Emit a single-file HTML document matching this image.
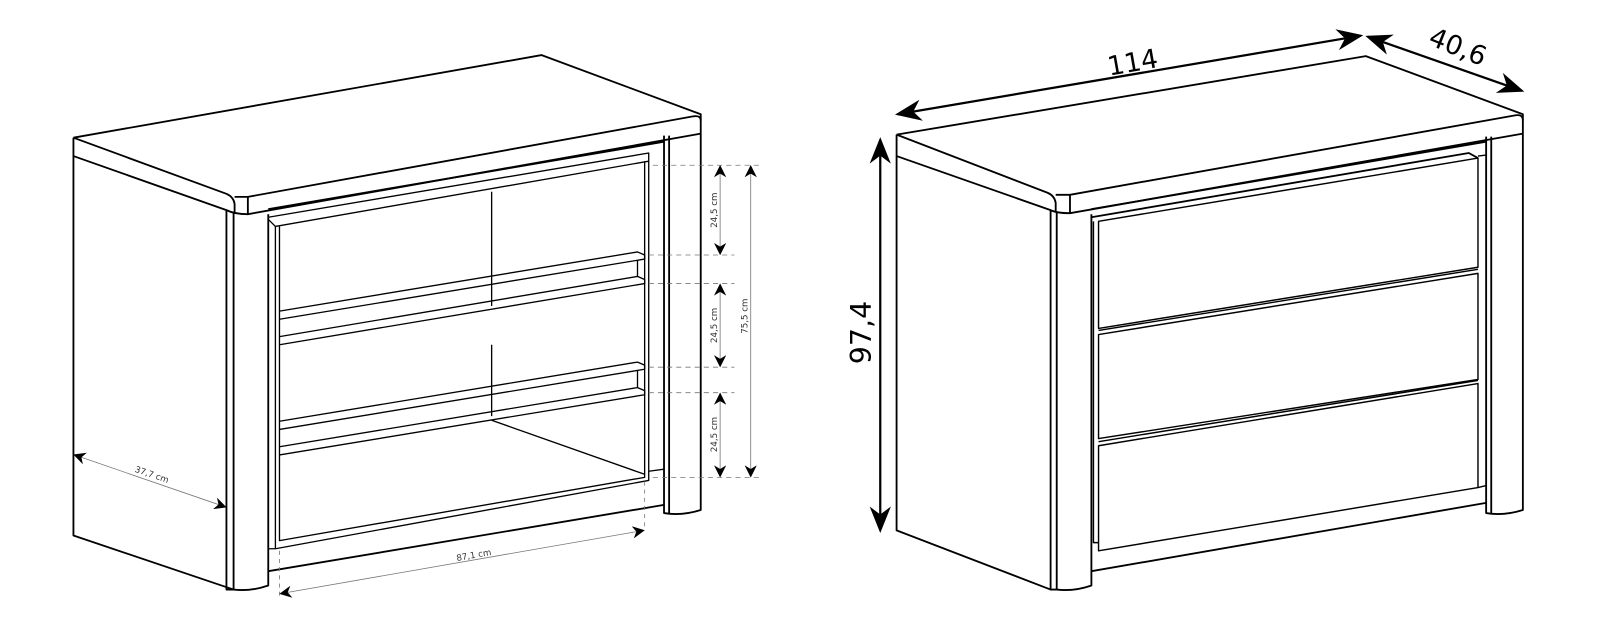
<!DOCTYPE html>
<html><head><meta charset="utf-8"><style>
html,body{margin:0;padding:0;background:#fff;width:1600px;height:629px;overflow:hidden}
svg{display:block}
text{font-family:"DejaVu Sans","Liberation Sans",sans-serif}
</style></head><body>
<svg width="1600" height="629" viewBox="0 0 1600 629" xmlns="http://www.w3.org/2000/svg">
<defs>
<marker id="a" viewBox="0 0 10 10" refX="9" refY="5" markerWidth="12" markerHeight="12" markerUnits="userSpaceOnUse" orient="auto-start-reverse"><path d="M0,0 L10,5 L0,10 L3,5z" fill="#000"/></marker>
<marker id="b" viewBox="0 0 10 10" refX="9" refY="5" markerWidth="26" markerHeight="26" markerUnits="userSpaceOnUse" orient="auto-start-reverse"><path d="M0,1 L10,5 L0,9 L3,5z" fill="#000"/></marker>
</defs>
<g transform="scale(1.02)" fill="none" stroke="#000" stroke-linejoin="round">
<!-- LEFT DRESSER -->
<g stroke-width="1.8">
<path d="M72,135 L531,54 L687,112 L687,131"/>
<path d="M72,135 L222,190 Q229,193 230,200 L230,208"/>
<path d="M230,193 L243,193 L680,114 Q687,113 687,118"/>
<path d="M243,193 L243,210 L687,131"/>
<path d="M72,135 L72,525 L229,578"/>
<path d="M72,153 L222,206 Q230,210 243,210"/>
<path d="M222,206 L222,578 L229,578"/>
<path d="M229,208 L229,578 Q246,580 263,574 L263,210"/>
<path d="M651,133 L651,503 Q668,506 687,500 L687,131"/>
<path d="M656,133 L656,503"/>
<path d="M263,205 L651,139"/>
<path d="M263,560 L651,495"/>
</g>
<g stroke-width="1.3">
<path d="M263,213 L636,150 L636,471 L270,538 L263,538"/>
<path d="M270,222 L636,158"/>
<path d="M270,222 L270,538 M274,222 L274,530 L632,468 L632,158"/>
<path d="M263,215 L270,222"/>
<path d="M482,188 L482,300 M482,338 L482,408"/>
<path d="M482,412 L632,465"/>
<path d="M274,305 L625,247 L632,250 L632,254 L274,313 M274,330 L625,271 L632,274 L632,278 L274,338"/>
<path d="M625,255 L625,271"/>
<path d="M274,413 L625,355 L632,358 L632,362 L274,421 M274,438 L625,380 L632,383 L632,387 L274,446"/>
<path d="M625,363 L625,380"/>
<path d="M636,462 L651,460"/>
</g>
<g stroke="#777" stroke-width="0.8">
<path stroke-dasharray="5,4" d="M640,162 L745,162 M636,250 L720,250 M636,278 L720,278 M636,360 L720,360 M636,385 L720,385 M640,468 L745,468"/>
<path stroke-dasharray="4,4" d="M632,472 L632,520 M274,540 L274,585"/>
<path marker-start="url(#a)" marker-end="url(#a)" d="M706,163 L706,249"/>
<path marker-start="url(#a)" marker-end="url(#a)" d="M706,279 L706,359"/>
<path marker-start="url(#a)" marker-end="url(#a)" d="M706,386 L706,467"/>
<path marker-start="url(#a)" marker-end="url(#a)" d="M736,163 L736,467"/>
<path marker-start="url(#a)" marker-end="url(#a)" d="M73,446 L221,497"/>
<path marker-start="url(#a)" marker-end="url(#a)" d="M275,582 L631,520"/>
</g>
<g fill="#333" stroke="none" font-size="8.5">
<text transform="translate(703,206) rotate(-90)" text-anchor="middle">24,5 cm</text>
<text transform="translate(703,319) rotate(-90)" text-anchor="middle">24,5 cm</text>
<text transform="translate(703,426) rotate(-90)" text-anchor="middle">24,5 cm</text>
<text transform="translate(733,310) rotate(-90)" text-anchor="middle">75,5 cm</text>
<text transform="translate(148,468) rotate(19)" text-anchor="middle">37,7 cm</text>
<text transform="translate(465,547) rotate(-10)" text-anchor="middle">87,1 cm</text>
</g>

<!-- RIGHT DRESSER -->
<g stroke-width="1.8">
<path d="M879,132 L1339,55 L1493,112 L1493,131"/>
<path d="M879,132 L1027,189 Q1034,192 1035,199 L1035,208"/>
<path d="M1035,191 L1049,191 L1486,113 Q1493,112 1493,118"/>
<path d="M1049,191 L1049,209 L1493,131"/>
<path d="M879,132 L879,520 L1030,578"/>
<path d="M879,153 L1030,206 Q1036,209 1049,209"/>
<path d="M1030,206 L1030,578 L1036,578"/>
<path d="M1036,208 L1036,578 Q1053,580 1070,574 L1070,210"/>
<path d="M1457,134 L1457,503 Q1474,506 1493,500 L1493,131"/>
<path d="M1462,134 L1462,503"/>
<path d="M1070,205 L1457,139"/>
<path d="M1070,560 L1457,493"/>
<path d="M1070,213 L1440,150 L1449,155"/>
</g>
<g stroke-width="1.4">
<path d="M1072,217 L1072,532 L1077,532"/>
<path d="M1077,217 L1449,155 L1449,262 L1077,322 Z"/>
<path d="M1077,328 L1449,268 L1449,372 L1077,430 Z"/>
<path d="M1077,437 L1449,376 L1449,478 L1077,540 Z"/>
<path d="M1077,324 L1449,264 M1077,433 L1449,373"/>
<path d="M1449,478 L1457,476 M1449,153 L1457,152"/>
</g>
<g stroke-width="2.2">
<path marker-start="url(#b)" marker-end="url(#b)" d="M880,112 L1334,35"/>
<path marker-start="url(#b)" marker-end="url(#b)" d="M1341,36 L1492,89"/>
<path marker-start="url(#b)" marker-end="url(#b)" d="M863,137 L863,520"/>
</g>
<g fill="#000" stroke="none" font-size="26">
<text transform="translate(1112,70) rotate(-10)" text-anchor="middle">114</text>
<text transform="translate(1426,54) rotate(22)" text-anchor="middle">40,6</text>
<text transform="translate(854,326) rotate(-90)" text-anchor="middle" font-size="28">97,4</text>
</g>
</g>
</svg>
</body></html>
